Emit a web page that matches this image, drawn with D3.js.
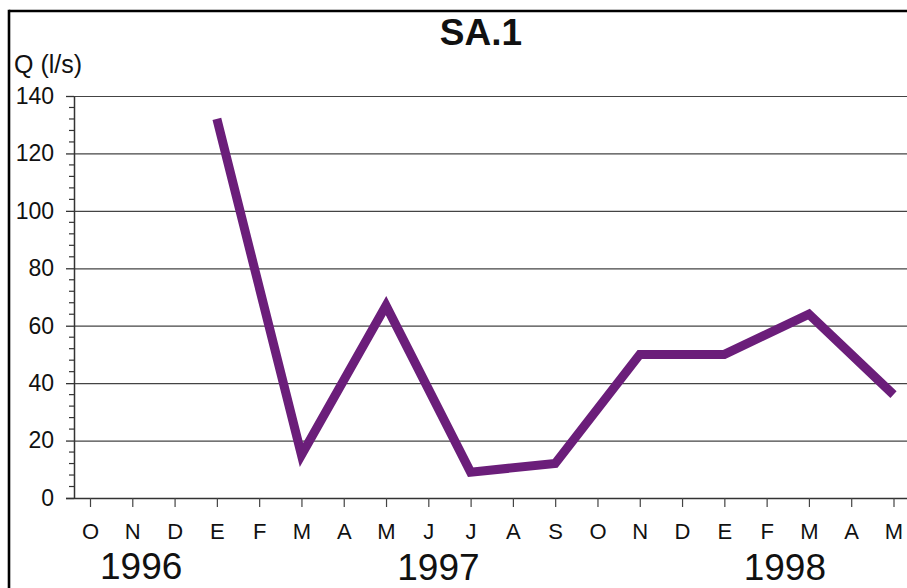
<!DOCTYPE html>
<html><head><meta charset="utf-8">
<script src="https://cdn.jsdelivr.net/npm/d3@7"></script>
<style>
body{margin:0;background:#fff;}
svg{display:block;font-family:"Liberation Sans",Arial,sans-serif;}
</style></head>
<body>
<svg id="c" width="907" height="588"></svg>
<script>
const title = "SA.1";
const yLabel = "Q (l/s)";
const months = ["O","N","D","E","F","M","A","M","J","J","A","S","O","N","D","E","F","M","A","M"];
const flow = [null,null,null,132,null,15,null,67,null,9,null,12,null,50,50,50,null,64,null,36];
const years = ["1996","1997","1998"];
const yTicks = [0,20,40,60,80,100,120,140];

const svg = d3.select("#c");
const x = d3.scaleLinear().domain([0, months.length - 1]).range([90, 893.5]);
const y = d3.scaleLinear().domain([0, 140]).range([498, 96]);
const axisX = 74;

// frame
svg.append("line").attr("x1",9).attr("x2",907).attr("y1",11).attr("y2",11).attr("stroke","#000").attr("stroke-width",2.6);
svg.append("line").attr("x1",9).attr("x2",9).attr("y1",9.7).attr("y2",588).attr("stroke","#000").attr("stroke-width",2.6);

// title
svg.append("text").attr("x",481).attr("y",45).attr("text-anchor","middle")
  .attr("font-size",37).attr("font-weight","bold").attr("fill","#111").text(title);
svg.append("text").attr("x",14).attr("y",73).attr("font-size",25).attr("fill","#111").text(yLabel);

// grid
svg.append("g").selectAll("line").data(yTicks.filter(d=>d>0)).join("line")
  .attr("x1",axisX).attr("x2",907).attr("y1",d=>y(d)+0.5).attr("y2",d=>y(d)+0.5)
  .attr("stroke","#444").attr("stroke-width",1.2);

// y axis
const gy = svg.append("g").attr("transform",`translate(${axisX},0)`);
gy.call(d3.axisLeft(y).tickValues(yTicks).tickSize(8).tickPadding(12).tickSizeOuter(0));
gy.attr("font-size",23).attr("font-family","Liberation Sans, Arial, sans-serif");
gy.select(".domain").attr("stroke","#333").attr("stroke-width",1.5);
gy.selectAll(".tick line").attr("stroke","#333").attr("stroke-width",1.3);
gy.selectAll(".tick text").style("font-size","23px").attr("fill","#111");
const minor = d3.range(0,141,4).filter(v=>v%20!==0);
gy.append("g").selectAll("line").data(minor).join("line")
  .attr("x1",-5).attr("x2",0).attr("y1",d=>y(d)).attr("y2",d=>y(d)).attr("stroke","#333").attr("stroke-width",1.2);

// x axis
const gx = svg.append("g").attr("transform",`translate(0,${y(0)})`);
gx.call(d3.axisBottom(x).tickValues(d3.range(months.length)).tickFormat(i=>months[i]).tickSize(9).tickPadding(16).tickSizeOuter(0));
gx.attr("font-size",22).attr("font-family","Liberation Sans, Arial, sans-serif");
gx.select(".domain").attr("d",`M66,0.5H907`).attr("stroke","#333").attr("stroke-width",1.5);
gx.selectAll(".tick line").attr("stroke","#444").attr("stroke-width",1.2);
gx.selectAll(".tick text").style("font-size","22px").attr("fill","#111");

// year labels
const yearPos = [1.21, 8.24, 16.43];
const yearBase = [579, 580, 580];
svg.append("g").selectAll("text").data(years).join("text")
  .attr("x",(d,i)=>x(yearPos[i])).attr("y",(d,i)=>yearBase[i]).attr("text-anchor","middle")
  .attr("font-size",37).attr("fill","#111").text(d=>d);

// line
const pts = flow.map((v,i)=>({i,v})).filter(d=>d.v!==null);
svg.append("path").datum(pts)
  .attr("d", d3.line().x(d=>x(d.i)).y(d=>y(d.v)))
  .attr("fill","none").attr("stroke","#6b1e7a").attr("stroke-width",9)
  .attr("stroke-linejoin","miter").attr("stroke-linecap","butt");
</script>
</body></html>
